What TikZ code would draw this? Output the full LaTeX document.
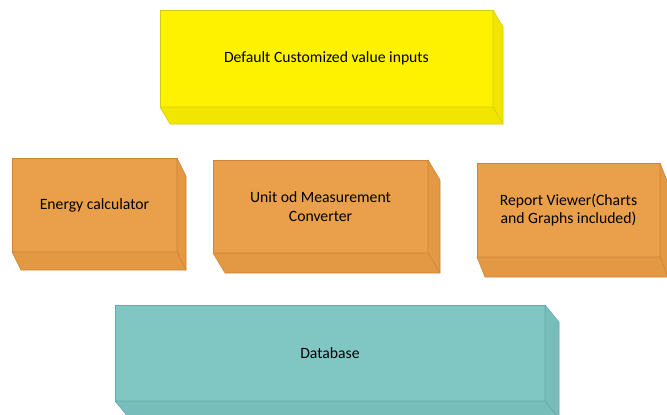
\documentclass[tikz,border=0pt]{standalone}
\usepackage{fontspec}
\setmainfont{Carlito}
\definecolor{ylwF}{HTML}{FFF200}
\definecolor{ylwS}{HTML}{F2E600}
\definecolor{ylwE}{HTML}{D6CB10}
\definecolor{orgF}{HTML}{EAA04A}
\definecolor{orgS}{HTML}{E39843}
\definecolor{orgE}{HTML}{CC8639}
\definecolor{tealF}{HTML}{80C7C3}
\definecolor{tealS}{HTML}{77BEBA}
\definecolor{tealE}{HTML}{66AAA6}
\tikzset{
  boxtext/.style={font=\fontsize{15.7}{18.8}\selectfont, align=center, text=black, inner sep=0pt, outer sep=0pt, line width=0.6pt},
  ylwbox/.style={boxtext, fill=ylwF, draw=ylwE},
  orgbox/.style={boxtext, fill=orgF, draw=orgE},
  tealbox/.style={boxtext, fill=tealF, draw=tealE},
}
% #1 node name, #2 dx, #3 dy, #4 side fill, #5 edge colour
\newcommand{\extrude}[5]{%
  \filldraw[fill=#4, draw=#5, line width=0.6pt, line join=round]
    (#1.north east) -- ++(#2,#3) -- ([shift={(#2,#3)}]#1.south east) -- (#1.south east) -- cycle;
  \filldraw[fill=#4, draw=#5, line width=0.6pt, line join=round]
    (#1.south west) -- (#1.south east) -- ([shift={(#2,#3)}]#1.south east) -- ([shift={(#2,#3)}]#1.south west) -- cycle;
}
\begin{document}
\begin{tikzpicture}[x=1pt,y=-1pt]
\useasboundingbox (0,0) rectangle (667,415);
\node[ylwbox, minimum width=333pt, minimum height=97pt] (inputs) at (326.5,58.5) {Default Customized value inputs};
\extrude{inputs}{10}{17}{ylwS}{ylwE}
\node[orgbox, minimum width=165pt, minimum height=94pt] (energy) at (94.5,205) {Energy calculator};
\extrude{energy}{9}{18}{orgS}{orgE}
\node[orgbox, minimum width=215pt, minimum height=93pt] (unit) at (320.5,206.5) {Unit od Measurement\\Converter};
\extrude{unit}{12}{20}{orgS}{orgE}
\node[orgbox, minimum width=183pt, minimum height=94pt] (report) at (568.5,210) {Report Viewer(Charts\\and Graphs included)};
\extrude{report}{8}{20}{orgS}{orgE}
\node[tealbox, minimum width=430pt, minimum height=96pt] (db) at (330,353) {Database};
\extrude{db}{14}{17}{tealS}{tealE}
\end{tikzpicture}
\end{document}
